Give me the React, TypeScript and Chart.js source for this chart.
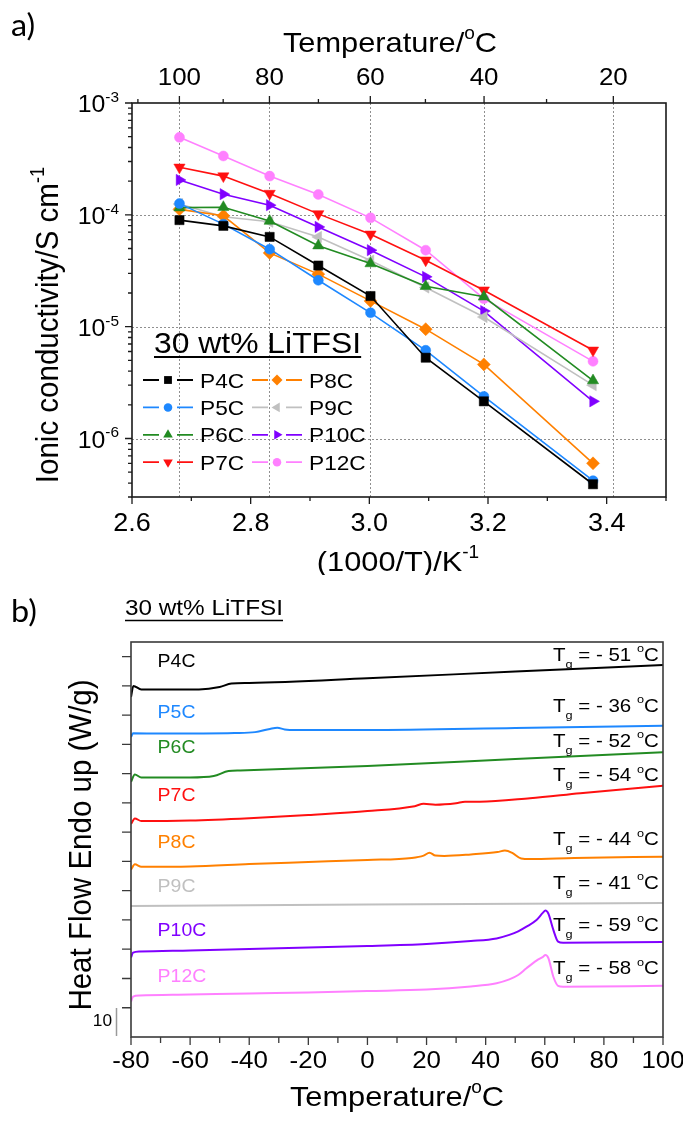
import React, { useEffect, useRef } from 'react';
import { Chart, registerables } from 'chart.js';

Chart.register(...registerables);

const FONT = "'Liberation Sans', Arial, Helvetica, sans-serif";
const PANEL_FONT = "Lato, 'Open Sans', sans-serif";
const HS = 1.08; // horizontal stretch of the original figure's lettering

// ---------------- (a) ionic conductivity vs 1000/T ----------------
const seriesNames = ['P4C', 'P5C', 'P6C', 'P7C', 'P8C', 'P9C', 'P10C', 'P12C'];
const inverseT = [2.68, 2.754, 2.832, 2.914, 3.002, 3.095, 3.193, 3.377];
const condP4C = [8.97e-5, 7.97e-5, 6.35e-5, 3.52e-5, 1.88e-5, 5.28e-6, 2.15e-6, 3.9e-7];
const condP5C = [1.26e-4, 8.26e-5, 4.93e-5, 2.6e-5, 1.33e-5, 6.15e-6, 2.38e-6, 4.2e-7];
const condP6C = [1.16e-4, 1.17e-4, 8.8e-5, 5.3e-5, 3.67e-5, 2.3e-5, 1.85e-5, 3.3e-6];
const condP7C = [2.66e-4, 2.22e-4, 1.55e-4, 1.02e-4, 6.7e-5, 3.93e-5, 2.12e-5, 6.15e-6];
const condP8C = [1.12e-4, 9.8e-5, 4.57e-5, 2.95e-5, 1.7e-5, 9.5e-6, 4.6e-6, 6.0e-7];
const condP9C = [1.25e-4, 9.6e-5, 8.67e-5, 6.35e-5, 3.9e-5, 2.24e-5, 1.22e-5, 3.0e-6];
const condP10C = [2.05e-4, 1.53e-4, 1.22e-4, 7.8e-5, 4.83e-5, 2.79e-5, 1.38e-5, 2.15e-6];
const condP12C = [4.93e-4, 3.36e-4, 2.22e-4, 1.52e-4, 9.4e-5, 4.83e-5, 1.78e-5, 4.9e-6];
const condSeries = [condP4C, condP5C, condP6C, condP7C, condP8C, condP9C, condP10C, condP12C];

const invTMajor = [2.6, 2.8, 3.0, 3.2, 3.4];
const invTMinor = [2.7, 2.9, 3.1, 3.3, 3.5];
const tempMajorC = [100, 80, 60, 40, 20];
const tempMinorC = [110, 90, 70, 50, 30];
const decadeExponents = [-3, -4, -5, -6];
const condMin = 3e-7;
const condMax = 1e-3;

// ---------------- (b) DSC traces ----------------
const dscT_P4C = [-80, -79.2, -76.5, -57, -50, -46, -40, 0, 50, 100];
const dscY_P4C = [11.62, 12.0, 11.88, 11.88, 11.96, 12.08, 12.1, 12.26, 12.49, 12.71];
const dscT_P5C = [-80, -79.3, -70, -45, -38, -33, -30.5, -28, -24, 0, 50, 100];
const dscY_P5C = [10.25, 10.38, 10.37, 10.39, 10.42, 10.53, 10.57, 10.51, 10.49, 10.49, 10.56, 10.64];
const dscT_P6C = [-80, -78.7, -76.5, -60, -52, -47, -43, 0, 50, 100];
const dscY_P6C = [8.72, 8.97, 8.87, 8.87, 8.92, 9.09, 9.11, 9.26, 9.5, 9.73];
const dscT_P7C = [-80, -78.7, -76.5, -60, -40, -20, 0, 16, 19, 23, 30, 33, 38, 55, 72, 100];
const dscY_P7C = [7.28, 7.47, 7.38, 7.4, 7.48, 7.59, 7.72, 7.89, 7.97, 7.94, 7.99, 8.04, 8.04, 8.16, 8.33, 8.59];
const dscT_P8C = [-80, -78.7, -76.5, -60, -40, -20, 0, 15, 19, 21, 23, 26, 35, 44, 46.5, 49, 52, 55, 70, 100];
const dscY_P8C = [5.72, 5.9, 5.82, 5.83, 5.91, 5.98, 6.05, 6.12, 6.2, 6.3, 6.2, 6.19, 6.24, 6.32, 6.37, 6.29, 6.1, 6.08, 6.12, 6.16];
const dscT_P9C = [-80, 0, 100];
const dscY_P9C = [4.48, 4.53, 4.58];
const dscT_P10C = [-80, -79.3, -77, -60, -40, -20, 0, 20, 35, 43.7, 48, 51, 53.8, 57.2, 59.4, 60.2, 61.2, 62.9, 64.5, 66.2, 100];
const dscY_P10C = [2.72, 2.88, 2.92, 2.96, 3.01, 3.06, 3.11, 3.18, 3.28, 3.37, 3.49, 3.61, 3.77, 4.0, 4.25, 4.32, 4.22, 3.66, 3.26, 3.22, 3.25];
const dscT_P12C = [-80, -79.3, -77, -60, -40, -20, 0, 20, 35, 43.7, 48, 51, 53.8, 57.2, 59.4, 60.2, 61.2, 62.9, 64.5, 66.2, 100];
const dscY_P12C = [1.21, 1.38, 1.42, 1.45, 1.49, 1.52, 1.57, 1.62, 1.73, 1.84, 1.97, 2.12, 2.35, 2.61, 2.74, 2.8, 2.7, 2.06, 1.75, 1.72, 1.75];
const dscT = [dscT_P4C, dscT_P5C, dscT_P6C, dscT_P7C, dscT_P8C, dscT_P9C, dscT_P10C, dscT_P12C];
const dscY = [dscY_P4C, dscY_P5C, dscY_P6C, dscY_P7C, dscY_P8C, dscY_P9C, dscY_P10C, dscY_P12C];

const tgValues = [-51, -36, -52, -54, -44, -41, -59, -58];
const nameLabelY = [12.88, 11.12, 9.92, 8.27, 6.67, 5.17, 3.68, 2.09];
const tgLabelY = [13.09, 11.35, 10.15, 8.98, 6.79, 5.29, 3.86, 2.37];
const nameLabelT = -71;
const tgLabelT = 98.6;
const dscXMajor = [-80, -60, -40, -20, 0, 20, 40, 60, 80, 100];
const dscXMinor = [-70, -50, -30, -10, 10, 30, 50, 70, 90];
const dscYTicks = [1, 2, 3, 4, 5, 6, 7, 8, 9, 10, 11, 12, 13];

const COLORS: Record<string, string> = {
  P4C: '#000000',
  P5C: '#1e88ff',
  P6C: '#228b22',
  P7C: '#ff1010',
  P8C: '#ff8000',
  P9C: '#c0c0c0',
  P10C: '#8000ff',
  P12C: '#ff80ff',
};
const MARKERS: Record<string, { style: string; rot: number; r: number }> = {
  P4C: { style: 'rect', rot: 0, r: 6.5 },
  P5C: { style: 'circle', rot: 0, r: 5 },
  P6C: { style: 'triangle', rot: 0, r: 6.5 },
  P7C: { style: 'triangle', rot: 180, r: 6.5 },
  P8C: { style: 'rectRot', rot: 0, r: 6.5 },
  P9C: { style: 'triangle', rot: 270, r: 6.5 },
  P10C: { style: 'triangle', rot: 90, r: 6.5 },
  P12C: { style: 'circle', rot: 0, r: 5 },
};

type Part = { t: string; sup?: boolean; sub?: boolean };

function richText(
  ctx: CanvasRenderingContext2D,
  parts: Part[],
  x: number,
  y: number,
  size: number,
  align: 'left' | 'center' | 'right' = 'left',
  color = '#000',
  rotate = 0,
  family = FONT
): number {
  const small = size * 0.62;
  ctx.save();
  ctx.translate(x, y);
  ctx.scale(HS, 1);
  if (rotate) ctx.rotate(rotate);
  ctx.fillStyle = color;
  ctx.textAlign = 'left';
  ctx.textBaseline = 'alphabetic';
  const fonts = parts.map((p) => `${p.sup || p.sub ? small : size}px ${family}`);
  const widths = parts.map((p, i) => {
    ctx.font = fonts[i];
    return ctx.measureText(p.t).width;
  });
  const total = widths.reduce((s, w) => s + w, 0);
  let cx = align === 'center' ? -total / 2 : align === 'right' ? -total : 0;
  const base = size * 0.358;
  parts.forEach((p, i) => {
    ctx.font = fonts[i];
    const dy = p.sup ? -size * 0.45 : p.sub ? size * 0.36 : 0;
    ctx.fillText(p.t, cx, base + dy);
    cx += widths[i];
  });
  ctx.restore();
  return total * HS;
}

function drawMarker(ctx: CanvasRenderingContext2D, style: string, rotDeg: number, r: number, x: number, y: number) {
  ctx.beginPath();
  if (style === 'circle') {
    ctx.arc(x, y, r, 0, Math.PI * 2);
  } else if (style === 'rect') {
    const s = r * Math.SQRT1_2;
    ctx.rect(x - s, y - s, 2 * s, 2 * s);
  } else if (style === 'rectRot') {
    ctx.moveTo(x, y - r);
    ctx.lineTo(x + r, y);
    ctx.lineTo(x, y + r);
    ctx.lineTo(x - r, y);
    ctx.closePath();
  } else {
    let rad = (rotDeg * Math.PI) / 180;
    ctx.moveTo(x + Math.sin(rad) * r, y - Math.cos(rad) * r);
    rad += (2 * Math.PI) / 3;
    ctx.lineTo(x + Math.sin(rad) * r, y - Math.cos(rad) * r);
    rad += (2 * Math.PI) / 3;
    ctx.lineTo(x + Math.sin(rad) * r, y - Math.cos(rad) * r);
    ctx.closePath();
  }
  ctx.fill();
}

function seg(ctx: CanvasRenderingContext2D, x1: number, y1: number, x2: number, y2: number) {
  ctx.moveTo(x1, y1);
  ctx.lineTo(x2, y2);
}

const toInv = (c: number) => 1000 / (c + 273.15);

const plotA = {
  id: 'plotA',
  beforeDatasetsDraw(chart: any) {
    const { ctx, chartArea: a } = chart;
    const xs = chart.scales.x;
    const ys = chart.scales.y;
    ctx.save();
    ctx.strokeStyle = '#8f8f8f';
    ctx.lineWidth = 1;
    ctx.setLineDash([2, 2]);
    ctx.beginPath();
    tempMajorC.forEach((t) => {
      const px = Math.round(xs.getPixelForValue(toInv(t))) + 0.5;
      seg(ctx, px, a.top, px, a.bottom);
    });
    decadeExponents.forEach((e) => {
      const v = Math.pow(10, e);
      if (v <= condMin * 1.01 || v >= condMax * 0.99) return;
      const py = Math.round(ys.getPixelForValue(v)) + 0.5;
      seg(ctx, a.left, py, a.right, py);
    });
    ctx.stroke();
    ctx.restore();
  },
  afterDatasetsDraw(chart: any) {
    const { ctx, chartArea: a } = chart;
    const xs = chart.scales.x;
    const ys = chart.scales.y;
    ctx.save();
    // ticks
    ctx.strokeStyle = '#1a1a1a';
    ctx.lineWidth = 1.3;
    ctx.beginPath();
    invTMajor.forEach((v) => {
      const px = xs.getPixelForValue(v);
      seg(ctx, px, a.bottom, px, a.bottom + 7);
    });
    invTMinor.forEach((v) => {
      const px = xs.getPixelForValue(v);
      seg(ctx, px, a.bottom, px, a.bottom + 4);
    });
    tempMajorC.forEach((t) => {
      const px = xs.getPixelForValue(toInv(t));
      seg(ctx, px, a.top, px, a.top - 7);
    });
    tempMinorC.forEach((t) => {
      const px = xs.getPixelForValue(toInv(t));
      seg(ctx, px, a.top, px, a.top - 4);
    });
    for (let e = -7; e <= -3; e++) {
      for (let m = 1; m <= 9; m++) {
        const v = m * Math.pow(10, e);
        if (v < condMin * 0.999 || v > condMax * 1.001) continue;
        const py = ys.getPixelForValue(v);
        seg(ctx, a.left, py, a.left - (m === 1 ? 7 : 4), py);
      }
    }
    ctx.stroke();
    // frame
    ctx.lineWidth = 1.6;
    ctx.strokeRect(a.left, a.top, a.right - a.left, a.bottom - a.top);

    // tick labels
    invTMajor.forEach((v) => {
      richText(ctx, [{ t: v.toFixed(1) }], xs.getPixelForValue(v), 522, 25, 'center');
    });
    tempMajorC.forEach((t) => {
      richText(ctx, [{ t: String(t) }], xs.getPixelForValue(toInv(t)), 76, 24, 'center');
    });
    decadeExponents.forEach((e) => {
      const py = ys.getPixelForValue(Math.pow(10, e));
      richText(ctx, [{ t: '10' }, { t: String(e), sup: true }], 119, py + 1, 23, 'right');
    });

    // axis titles
    richText(ctx, [{ t: 'Temperature/' }, { t: 'o', sup: true }, { t: 'C' }], 390, 42, 28.5, 'center');
    richText(ctx, [{ t: '(1000/T)/K' }, { t: '-1', sup: true }], 398, 561, 28.5, 'center');
    richText(ctx, [{ t: 'Ionic conductivity/S cm' }, { t: '-1', sup: true }], 47, 325, 29.5, 'center', '#000', -Math.PI / 2);

    // panel label
    richText(ctx, [{ t: 'a)' }], 11, 25, 30, 'left', '#000', 0, PANEL_FONT);

    // legend
    const w = richText(ctx, [{ t: '30 wt% LiTFSI' }], 154, 342, 29.5, 'left');
    ctx.strokeStyle = '#000';
    ctx.lineWidth = 2.2;
    ctx.beginPath();
    seg(ctx, 154, 357, 154 + w, 357);
    ctx.stroke();
    seriesNames.forEach((name, i) => {
      const col = i < 4 ? 0 : 1;
      const row = i % 4;
      const ly = 380 + row * 27.4;
      const x0 = col === 0 ? 143 : 252;
      const x1 = x0 + 50;
      const xm = (x0 + x1) / 2;
      const c = COLORS[name];
      ctx.strokeStyle = c;
      ctx.fillStyle = c;
      ctx.lineWidth = 1.8;
      ctx.beginPath();
      seg(ctx, x0, ly, xm - 9, ly);
      seg(ctx, xm + 9, ly, x1, ly);
      ctx.stroke();
      const mk = MARKERS[name];
      drawMarker(ctx, mk.style, mk.rot, mk.r * 0.85, xm, ly);
      richText(ctx, [{ t: name }], x1 + 7, ly, 21, 'left');
    });
    ctx.restore();
  },
};

const plotB = {
  id: 'plotB',
  afterDatasetsDraw(chart: any) {
    const { ctx, chartArea: a } = chart;
    const xs = chart.scales.x;
    const ys = chart.scales.y;
    ctx.save();
    ctx.strokeStyle = '#3a3a3a';
    ctx.lineWidth = 1.3;
    ctx.beginPath();
    dscXMajor.forEach((v) => {
      const px = xs.getPixelForValue(v);
      seg(ctx, px, a.bottom, px, a.bottom + 8);
    });
    dscXMinor.forEach((v) => {
      const px = xs.getPixelForValue(v);
      seg(ctx, px, a.bottom, px, a.bottom + 6);
    });
    dscYTicks.forEach((v) => {
      const py = ys.getPixelForValue(v);
      seg(ctx, a.left, py, a.left - 9, py);
    });
    ctx.stroke();
    ctx.lineWidth = 1.6;
    ctx.strokeRect(a.left, a.top, a.right - a.left, a.bottom - a.top);

    // tick labels
    dscXMajor.forEach((v) => {
      richText(ctx, [{ t: String(v) }], xs.getPixelForValue(v), 484, 24, 'center');
    });
    richText(ctx, [{ t: 'Temperature/' }, { t: 'o', sup: true }, { t: 'C' }], 397, 521, 28.5, 'center');
    richText(ctx, [{ t: 'Heat Flow Endo up (W/g)' }], 80, 270, 29.5, 'center', '#000', -Math.PI / 2);

    // scale bar
    ctx.strokeStyle = '#9a9a9a';
    ctx.lineWidth = 1.5;
    ctx.beginPath();
    seg(ctx, 116.5, 433, 116.5, 461);
    ctx.stroke();
    richText(ctx, [{ t: '10' }], 112, 445, 16, 'right');

    // trace labels
    seriesNames.forEach((name, i) => {
      richText(ctx, [{ t: name }], xs.getPixelForValue(nameLabelT), ys.getPixelForValue(nameLabelY[i]), 18, 'left', COLORS[name]);
      richText(
        ctx,
        [{ t: 'T' }, { t: 'g', sub: true }, { t: ' = - ' + Math.abs(tgValues[i]) + ' ' }, { t: 'o', sup: true }, { t: 'C' }],
        xs.getPixelForValue(tgLabelT),
        ys.getPixelForValue(tgLabelY[i]),
        19,
        'right'
      );
    });

    // title and panel label
    const w = richText(ctx, [{ t: '30 wt% LiTFSI' }], 125, 32, 22.5, 'left');
    ctx.strokeStyle = '#000';
    ctx.lineWidth = 1.5;
    ctx.beginPath();
    seg(ctx, 125, 45.5, 125 + w, 45.5);
    ctx.stroke();
    richText(ctx, [{ t: 'b)' }], 11, 36, 30, 'left', '#000', 0, PANEL_FONT);
    ctx.restore();
  },
};

export default function App() {
  const refA = useRef<HTMLCanvasElement>(null);
  const refB = useRef<HTMLCanvasElement>(null);

  useEffect(() => {
    const datasetsA = seriesNames.map((name, i) => ({
      label: name,
      data: inverseT.map((x, j) => ({ x, y: condSeries[i][j] })),
      borderColor: COLORS[name],
      backgroundColor: COLORS[name],
      borderWidth: 1.6,
      pointStyle: MARKERS[name].style as any,
      pointRotation: MARKERS[name].rot,
      pointRadius: MARKERS[name].r,
      pointBackgroundColor: COLORS[name],
      pointBorderColor: COLORS[name],
      pointBorderWidth: 0.5,
      tension: 0,
    }));
    const chartA = new Chart(refA.current!, {
      type: 'line',
      data: { datasets: datasetsA },
      options: {
        responsive: false,
        animation: false,
        devicePixelRatio: 1,
        events: [],
        layout: { padding: { left: 132, top: 103, right: 17, bottom: 78 } },
        plugins: { legend: { display: false }, tooltip: { enabled: false } },
        scales: {
          x: { type: 'linear', min: 2.6, max: 3.5, display: false },
          y: { type: 'logarithmic', min: condMin, max: condMax, display: false },
        },
      },
      plugins: [plotA],
    } as any);

    const datasetsB = seriesNames.map((name, i) => ({
      label: name,
      data: dscT[i].map((x, j) => ({ x, y: dscY[i][j] })),
      borderColor: COLORS[name],
      backgroundColor: COLORS[name],
      borderWidth: 2,
      pointRadius: 0,
      cubicInterpolationMode: 'monotone',
    }));
    const chartB = new Chart(refB.current!, {
      type: 'line',
      data: { datasets: datasetsB },
      options: {
        responsive: false,
        animation: false,
        devicePixelRatio: 1,
        events: [],
        layout: { padding: { left: 131, top: 67, right: 20, bottom: 84 } },
        plugins: { legend: { display: false }, tooltip: { enabled: false } },
        scales: {
          x: { type: 'linear', min: -80, max: 100, display: false },
          y: { type: 'linear', min: 0, max: 13.5, display: false },
        },
      },
      plugins: [plotB],
    } as any);

    return () => {
      chartA.destroy();
      chartB.destroy();
    };
  }, []);

  return (
    <div style={{ position: 'absolute', left: 0, top: 0, width: 683, height: 1121, background: '#fff' }}>
      <canvas
        ref={refA}
        width={683}
        height={575}
        style={{ position: 'absolute', left: 0, top: 0, width: 683, height: 575, display: 'block' }}
      />
      <canvas
        ref={refB}
        width={683}
        height={546}
        style={{ position: 'absolute', left: 0, top: 575, width: 683, height: 546, display: 'block' }}
      />
    </div>
  );
}
